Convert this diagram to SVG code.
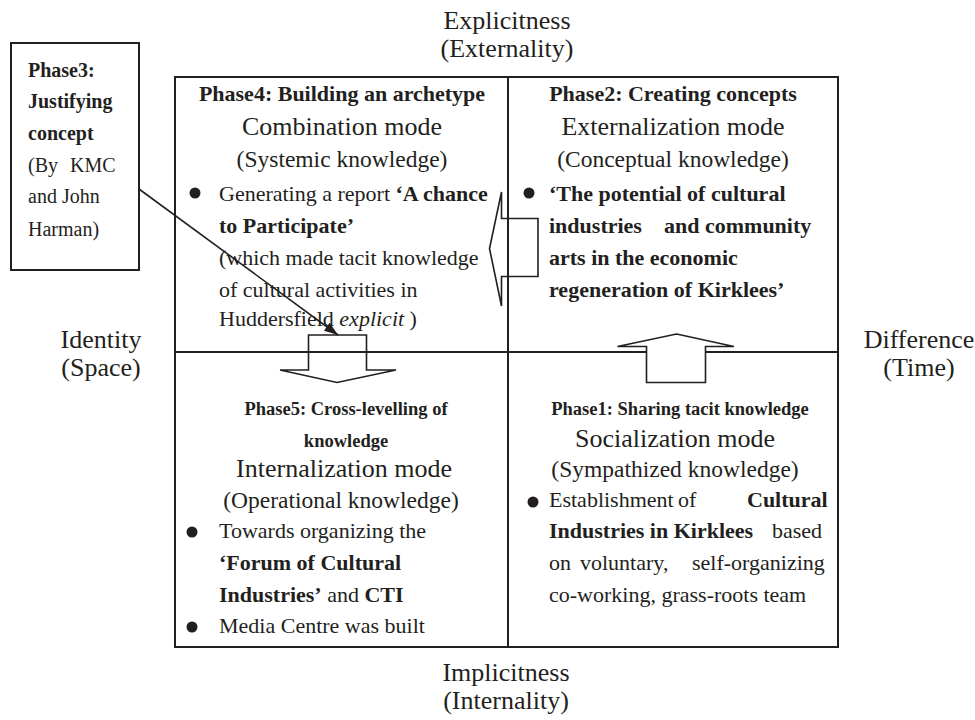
<svg xmlns="http://www.w3.org/2000/svg" width="975" height="720" viewBox="0 0 975 720">
  <defs>
    <style>
      text { font-family: "Liberation Serif", "Times New Roman", serif; fill: #231f20; }
      .axis { font-size: 26px; text-anchor: middle; }
      .ph { font-size: 22px; font-weight: bold; text-anchor: middle; }
      .ph-s { font-size: 18.5px; font-weight: bold; text-anchor: middle; }
      .mode { font-size: 26px; text-anchor: middle; }
      .kind { font-size: 23.5px; text-anchor: middle; }
      .body { font-size: 22px; }
      .side { font-size: 20px; }
      .b { font-weight: bold; }
      .i { font-style: italic; }
      .frame { fill: none; stroke: #231f20; stroke-width: 2; }
      .grid { stroke: #231f20; stroke-width: 2; }
      .flow { stroke: #231f20; stroke-width: 1.6; stroke-linejoin: miter; }
      .dot { fill: #231f20; }
    </style>
    <marker id="tip" viewBox="0 0 14 10" refX="14" refY="5" markerWidth="14" markerHeight="10" markerUnits="userSpaceOnUse" orient="auto">
      <path d="M0,0 L14,5 L0,10 Z" fill="#231f20"/>
    </marker>
  </defs>

  <rect width="975" height="720" fill="#ffffff"/>

  <!-- axis labels -->
  <g id="axis-top">
    <text class="axis" x="507" y="29">Explicitness</text>
    <text class="axis" x="507" y="57">(Externality)</text>
  </g>
  <g id="axis-bottom">
    <text class="axis" x="506" y="681">Implicitness</text>
    <text class="axis" x="506" y="709">(Internality)</text>
  </g>
  <g id="axis-left">
    <text class="axis" x="101" y="348">Identity</text>
    <text class="axis" x="101" y="376">(Space)</text>
  </g>
  <g id="axis-right">
    <text class="axis" x="919" y="348">Difference</text>
    <text class="axis" x="919" y="376">(Time)</text>
  </g>

  <!-- quadrant frame -->
  <g id="matrix">
    <rect class="frame" x="175" y="77" width="663" height="570"/>
    <line class="grid" x1="508" y1="77" x2="508" y2="647"/>
    <line class="grid" x1="175" y1="352" x2="838" y2="352"/>
  </g>

  <!-- Phase 3 side box -->
  <g id="phase3">
    <rect class="frame" x="11" y="43" width="128" height="227"/>
    <text class="side b" x="28" y="77">Phase3:</text>
    <text class="side b" x="28" y="108">Justifying</text>
    <text class="side b" x="28" y="140">concept</text>
    <text class="side" x="28" y="172">(By<tspan x="70">KMC</tspan></text>
    <text class="side" x="28" y="203">and John</text>
    <text class="side" x="28" y="236">Harman)</text>
  </g>

  <!-- Phase 4: combination -->
  <g id="phase4">
    <text class="ph" x="342" y="101">Phase4: Building an archetype</text>
    <text class="mode" x="342" y="135">Combination mode</text>
    <text class="kind" x="342" y="167">(Systemic knowledge)</text>
    <circle class="dot" cx="195" cy="193" r="5.5"/>
    <text class="body" x="219" y="201">Generating a report <tspan class="b">‘A chance</tspan></text>
    <text class="body b" x="219" y="233">to Participate’</text>
    <text class="body" x="219" y="265">(which made tacit knowledge</text>
    <text class="body" x="219" y="297">of cultural activities in</text>
    <text class="body" x="219" y="326">Huddersfield <tspan class="i">explicit</tspan> )</text>
  </g>

  <!-- Phase 2: externalization -->
  <g id="phase2">
    <text class="ph" x="673" y="101">Phase2: Creating concepts</text>
    <text class="mode" x="673" y="135">Externalization mode</text>
    <text class="kind" x="673" y="167">(Conceptual knowledge)</text>
    <circle class="dot" cx="529" cy="193" r="5.5"/>
    <text class="body b" x="549" y="201">‘The potential of cultural</text>
    <text class="body b" x="549" y="233">industries<tspan x="664">and community</tspan></text>
    <text class="body b" x="549" y="265">arts in the economic</text>
    <text class="body b" x="549" y="297">regeneration of Kirklees’</text>
  </g>

  <!-- Phase 5: internalization -->
  <g id="phase5">
    <text class="ph-s" x="346" y="415">Phase5: Cross-levelling of</text>
    <text class="ph-s" x="346" y="447">knowledge</text>
    <text class="mode" x="344" y="477">Internalization mode</text>
    <text class="kind" x="341" y="508">(Operational knowledge)</text>
    <circle class="dot" cx="192" cy="532" r="5.5"/>
    <text class="body" x="219" y="538">Towards organizing the</text>
    <text class="body b" x="219" y="570">‘Forum of Cultural</text>
    <text class="body" x="219" y="602"><tspan class="b">Industries’</tspan> and <tspan class="b">CTI</tspan></text>
    <circle class="dot" cx="192" cy="627" r="5.5"/>
    <text class="body" x="219" y="633">Media Centre was built</text>
  </g>

  <!-- Phase 1: socialization -->
  <g id="phase1">
    <text class="ph-s" x="680" y="415">Phase1: Sharing tacit knowledge</text>
    <text class="mode" x="675" y="447">Socialization mode</text>
    <text class="kind" x="675" y="477">(Sympathized knowledge)</text>
    <circle class="dot" cx="533" cy="502" r="5.5"/>
    <text class="body" x="549" y="507">Establishment<tspan x="678">of</tspan><tspan class="b" x="747">Cultural</tspan></text>
    <text class="body" x="549" y="538"><tspan class="b">Industries in Kirklees</tspan><tspan x="772">based</tspan></text>
    <text class="body" x="549" y="570">on<tspan x="580">voluntary,</tspan><tspan x="692">self-organizing</tspan></text>
    <text class="body" x="549" y="602">co-working, grass-roots team</text>
  </g>

  <!-- block arrows and the pointer from Phase 3 -->
  <g id="connectors">
    <polygon class="flow" fill="none" points="489.5,248.5 501.5,192 501.5,218.5 538,218.5 538,276.5 501.5,276.5 501.5,306"/>
    <polygon class="flow" fill="#ffffff" points="676.5,334 734,346.5 705.5,346.5 705.5,382.5 646.5,382.5 646.5,346.5 617.5,346.5"/>
    <polygon class="flow" fill="none" points="308.5,335 366.5,335 366.5,370 396,370 337,382.5 280,370 308.5,370"/>
    <line class="flow" x1="139" y1="189" x2="338" y2="335" marker-end="url(#tip)"/>
  </g>
</svg>
